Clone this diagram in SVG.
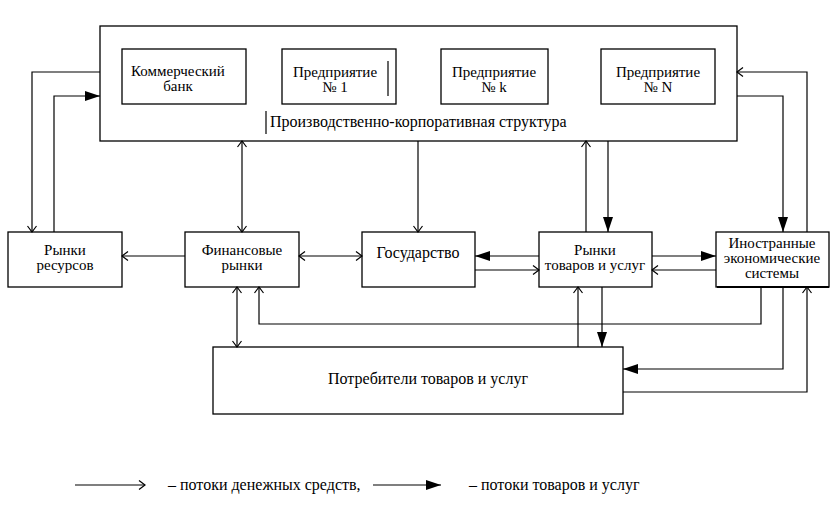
<svg xmlns="http://www.w3.org/2000/svg" width="837" height="510" viewBox="0 0 837 510">
<style>
.box{fill:#fff;stroke:#000;stroke-width:1.3}
.c{fill:none;stroke:#000;stroke-width:1.2}
.t{font-family:'Liberation Serif','Times New Roman',serif;font-size:15px;fill:#000;text-anchor:middle}
.s{font-size:16px}
.l{font-family:'Liberation Serif','Times New Roman',serif;font-size:16px;fill:#000}
.money{marker-end:url(#open)}
.goods{marker-end:url(#filled)}
.both{marker-start:url(#openS);marker-end:url(#open)}
</style>
<defs>
<marker id="open" markerUnits="userSpaceOnUse" viewBox="-8 -5 10 10" refX="0" refY="0" markerWidth="10" markerHeight="10" orient="auto">
<path d="M-6,-4.5 L0,0 L-6,4.5" fill="none" stroke="#000" stroke-width="1.2"/>
</marker>
<marker id="openS" markerUnits="userSpaceOnUse" viewBox="-8 -5 10 10" refX="0" refY="0" markerWidth="10" markerHeight="10" orient="auto-start-reverse">
<path d="M-6,-4.5 L0,0 L-6,4.5" fill="none" stroke="#000" stroke-width="1.2"/>
</marker>
<marker id="filled" markerUnits="userSpaceOnUse" viewBox="-16 -6 17 12" refX="0" refY="0" markerWidth="17" markerHeight="12" orient="auto">
<path d="M-15,-5 L0,0 L-15,5 Z" fill="#000"/>
</marker>
</defs>
<rect width="837" height="510" fill="#fff"/>

<g id="corp">
<rect class="box" x="100" y="26" width="637" height="115"/>
<text class="l" x="270" y="127">Производственно-корпоративная структура</text>
<line x1="266" y1="111" x2="266" y2="134" stroke="#000" stroke-width="1.2"/>
</g>
<g id="bank">
<rect class="box" x="122" y="49" width="124" height="55"/>
<text class="t" x="178" y="76">Коммерческий</text>
<text class="t" x="178" y="91">банк</text>
</g>
<g id="ent1">
<rect class="box" x="282" y="49" width="114" height="55"/>
<text class="t" x="335" y="77">Предприятие</text>
<text class="t" x="335" y="92">№ 1</text>
<line x1="388" y1="61" x2="388" y2="96" stroke="#000" stroke-width="1.2"/>
</g>
<g id="entk">
<rect class="box" x="441" y="49" width="107" height="55"/>
<text class="t" x="494" y="77">Предприятие</text>
<text class="t" x="494" y="92">№ k</text>
</g>
<g id="entN">
<rect class="box" x="601" y="49" width="114" height="55"/>
<text class="t" x="658" y="77">Предприятие</text>
<text class="t" x="658" y="92">№ N</text>
</g>

<g id="res">
<rect class="box" x="8" y="232" width="114" height="55"/>
<text class="t" x="65" y="255">Рынки</text>
<text class="t" x="65" y="270">ресурсов</text>
</g>
<g id="fin">
<rect class="box" x="185" y="232" width="114" height="55"/>
<text class="t" x="242" y="255">Финансовые</text>
<text class="t" x="242" y="270">рынки</text>
</g>
<g id="gov">
<rect class="box" x="362" y="232" width="113" height="55"/>
<text class="t s" x="418" y="258">Государство</text>
</g>
<g id="goods">
<rect class="box" x="539" y="232" width="113" height="55"/>
<text class="t" x="595" y="255">Рынки</text>
<text class="t" x="595" y="270">товаров и услуг</text>
</g>
<g id="foreign">
<rect class="box" x="716" y="232" width="113" height="55"/>
<line x1="717" y1="287" x2="829" y2="287" stroke="#000" stroke-width="2"/>
<text class="t" x="772" y="248">Иностранные</text>
<text class="t" x="772" y="263">экономические</text>
<text class="t" x="772" y="278">системы</text>
</g>
<g id="cons">
<rect class="box" x="213" y="347" width="410" height="67"/>
<text class="t s" x="428" y="384">Потребители товаров и услуг</text>
</g>

<g id="connectors">
<path class="c money" d="M100,72 H32 V232"/>
<path class="c goods" d="M54,232 V96 H100"/>
<path class="c both" d="M242,141 V232"/>
<path class="c money" d="M418,141 V232"/>
<path class="c money" d="M586,232 V141"/>
<path class="c goods" d="M608,141 V232"/>
<path class="c money" d="M807,232 V72 H737"/>
<path class="c goods" d="M737,96 H783 V232"/>
<path class="c money" d="M185,256 H122"/>
<path class="c both" d="M299,256 H362"/>
<path class="c goods" d="M539,256 H475"/>
<path class="c money" d="M475,270 H539"/>
<path class="c goods" d="M652,256 H716"/>
<path class="c money" d="M716,270 H652"/>
<path class="c both" d="M237,287 V347"/>
<path class="c money" d="M761,287 V324 H259 V287"/>
<path class="c money" d="M578,347 V287"/>
<path class="c goods" d="M602,287 V347"/>
<path class="c goods" d="M783,287 V369 H623"/>
<path class="c money" d="M623,392 H807 V287"/>
</g>

<g id="legend">
<path class="c money" d="M75,485 H145"/>
<text class="l" x="168" y="490">– потоки денежных средств,</text>
<path class="c goods" d="M373,485 H441"/>
<text class="l" x="469" y="490">– потоки товаров и услуг</text>
</g>
</svg>
